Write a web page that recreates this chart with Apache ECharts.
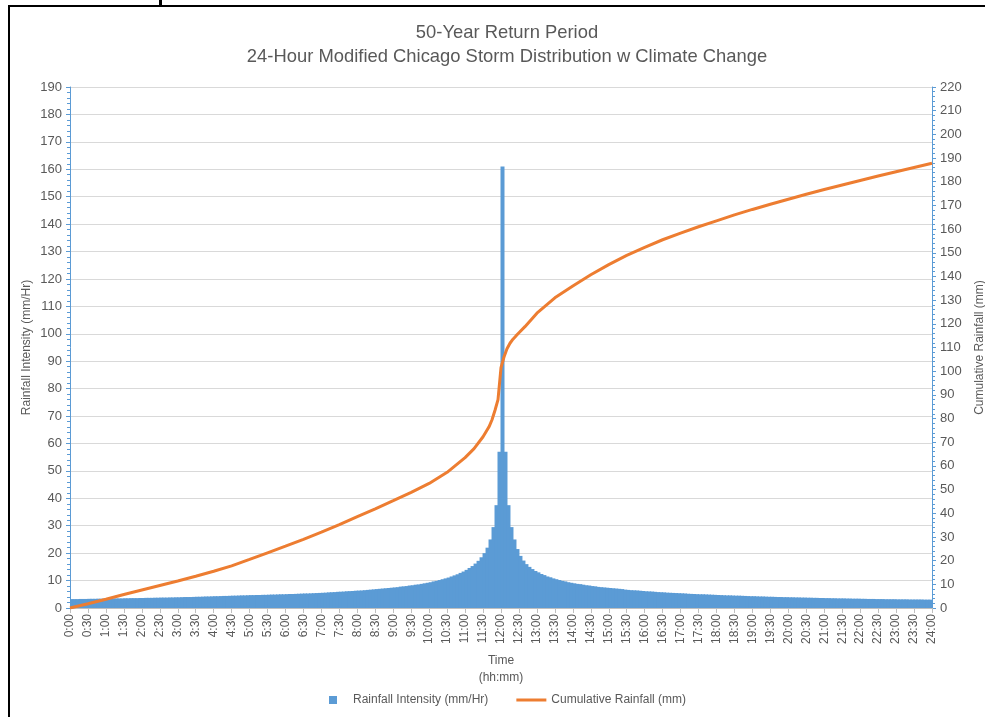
<!DOCTYPE html>
<html>
<head>
<meta charset="utf-8">
<script src="https://cdn.jsdelivr.net/npm/echarts@6/dist/echarts.min.js"></script>
<style>
  html, body { margin: 0; padding: 0; background: #fff; }
  #chart { width: 985px; height: 717px; }
</style>
</head>
<body>
<div id="chart"></div>
<script>
  // 5-minute rainfall intensity (mm/Hr), 0:00 -> 24:00, 288 blocks
  var intensity = [
    3.25, 3.25, 3.25, 3.3, 3.3, 3.3, 3.35, 3.35, 3.35, 3.4, 3.4, 3.4,
    3.45, 3.45, 3.45, 3.5, 3.5, 3.5, 3.55, 3.55, 3.6, 3.6, 3.6, 3.65,
    3.65, 3.7, 3.7, 3.7, 3.75, 3.75, 3.8, 3.8, 3.8, 3.85, 3.85, 3.9,
    3.9, 3.95, 4.0, 4.0, 4.0, 4.05, 4.1, 4.1, 4.15, 4.2, 4.2, 4.25,
    4.3, 4.3, 4.35, 4.4, 4.4, 4.45, 4.5, 4.5, 4.55, 4.6, 4.6, 4.65,
    4.7, 4.7, 4.75, 4.75, 4.8, 4.8, 4.85, 4.9, 4.9, 4.95, 5.0, 5.0,
    5.05, 5.1, 5.1, 5.15, 5.2, 5.25, 5.3, 5.3, 5.35, 5.4, 5.45, 5.5,
    5.55, 5.6, 5.7, 5.75, 5.8, 5.9, 5.95, 6.0, 6.1, 6.15,
    6.2, 6.3, 6.35, 6.4, 6.5, 6.6, 6.7, 6.8, 6.9, 7.0,
    7.1, 7.2, 7.3, 7.4, 7.5, 7.6, 7.8, 7.9, 8.0, 8.2,
    8.3, 8.5, 8.6, 8.8, 9.0, 9.2, 9.4, 9.7, 9.9, 10.2,
    10.5, 10.8, 11.1, 11.5, 11.9, 12.3, 12.8, 13.3, 13.9, 14.6,
    15.3, 16.2, 17.2, 18.5, 20, 22, 25, 29.5, 37.5, 57,
    161,
    57, 37.5, 29.5, 25, 21.5, 19, 17.3, 16, 15, 14.2,
    13.5, 13, 12.4, 12, 11.5, 11.2, 10.8, 10.5, 10.2, 9.9,
    9.7, 9.4, 9.2, 9.0, 8.8, 8.7, 8.5, 8.3, 8.2, 8.0,
    7.9, 7.7, 7.6, 7.5, 7.4, 7.3, 7.2, 7.1, 7.0, 6.9,
    6.7, 6.6, 6.5, 6.45, 6.4, 6.3, 6.2, 6.1, 6.05, 6.0,
    5.9, 5.8, 5.75, 5.7, 5.6, 5.55, 5.5, 5.45, 5.4, 5.35,
    5.3, 5.2, 5.15, 5.1, 5.05, 5.0, 5.0, 4.95, 4.9, 4.85,
    4.8, 4.75, 4.7, 4.65, 4.6, 4.6, 4.55, 4.5, 4.5, 4.45,
    4.4, 4.35, 4.3, 4.3, 4.25, 4.2, 4.2, 4.15, 4.1, 4.1,
    4.05, 4.0, 4.0, 3.95, 3.95, 3.9, 3.9, 3.85, 3.85, 3.8,
    3.8, 3.75, 3.75, 3.7, 3.7, 3.65, 3.65, 3.6, 3.6, 3.55,
    3.55, 3.5, 3.5, 3.5, 3.45, 3.45, 3.4, 3.4, 3.4, 3.35,
    3.35, 3.3, 3.3, 3.3, 3.25, 3.25, 3.25, 3.2, 3.2, 3.2,
    3.2, 3.15, 3.15, 3.15, 3.15, 3.1, 3.1, 3.1, 3.1, 3.1,
    3.05, 3.05, 3.05
  ]

  // cumulative rainfall (mm)
  var cumTimes = [
    '0:00', '0:30', '1:00', '1:30', '2:00', '2:30', '3:00', '3:30', '4:00', '4:30',
    '5:00', '5:30', '6:00', '6:30', '7:00', '7:30', '8:00', '8:30', '9:00', '9:30',
    '10:00', '10:30', '11:00', '11:15', '11:30', '11:40', '11:45', '11:50', '11:55', '12:00',
    '12:05', '12:10', '12:15', '12:20', '12:25', '12:30', '12:40', '13:00', '13:30', '14:00',
    '14:30', '15:00', '15:30', '16:00', '16:30', '17:00', '17:30', '18:00', '18:30', '19:00',
    '19:30', '20:00', '20:30', '21:00', '21:30', '22:00', '22:30', '23:00', '23:30', '24:00'
  ]
  var cumValues = [
    0, 1.8, 3.7, 5.7, 7.6, 9.5, 11.4, 13.4, 15.5, 17.8,
    20.5, 23.3, 26.1, 29, 32, 35.2, 38.6, 41.9, 45.3, 48.8,
    52.6, 57.3, 63.5, 67.3, 72.3, 76.5, 79.5, 83.5, 88, 101.5,
    106, 109.5, 111.8, 113.5, 114.9, 116.2, 118.8, 124.5, 131, 136,
    140.7, 145, 148.9, 152.3, 155.5, 158.3, 161, 163.5, 166, 168.3,
    170.5, 172.6, 174.7, 176.7, 178.6, 180.5, 182.4, 184.2, 186, 187.8
  ]

  var leftMax = 190
  var rightMax = 220

  var blue = '#5B9BD5'
  var orange = '#ED7D31'
  var txt = '#595959'
  var font = 'Liberation Sans'

  function toMin(s) {
    var p = s.split(':')
    return (+p[0]) * 60 + (+p[1])
  }
  function fmtMin(v) {
    var h = Math.floor(v / 60)
    var m = v % 60
    return h + ':' + (m < 10 ? '0' + m : m)
  }

  var barCats = intensity.map(function (v, i) { return fmtMin(i * 5) })
  var cumData = cumTimes.map(function (t, i) { return [toMin(t), cumValues[i]] })

  var myChart = echarts.init(document.getElementById('chart'))
  myChart.setOption({
    animation: false,
    backgroundColor: '#fff',
    title: {
      text: '50-Year Return Period\n24-Hour Modified Chicago Storm Distribution w Climate Change',
      left: 502,
      top: 16,
      textAlign: 'center',
      textStyle: { fontFamily: font, fontSize: 18.4, fontWeight: 'normal', color: txt, lineHeight: 24 }
    },
    legend: {
      bottom: 6,
      left: 324,
      itemGap: 28,
      itemWidth: 30,
      itemHeight: 8,
      textStyle: { fontFamily: font, fontSize: 12, color: txt },
      data: [
        { name: 'Rainfall Intensity (mm/Hr)', icon: 'path://M0,0h10v10h-10z' },
        { name: 'Cumulative Rainfall (mm)', icon: 'path://M0,0h100v10h-100z' }
      ]
    },
    grid: { left: 70, right: 53, top: 87, bottom: 109, outerBoundsMode: 'none' },
    xAxis: [
      {
        type: 'value',
        min: 0,
        max: 1440,
        interval: 30,
        name: 'Time\n(hh:mm)',
        nameLocation: 'middle',
        nameGap: 43,
        nameTextStyle: { fontFamily: font, fontSize: 12, color: txt, lineHeight: 17 },
        axisLine: { lineStyle: { color: '#bfbfbf' } },
        axisTick: { length: 5, lineStyle: { color: '#bfbfbf' } },
        axisLabel: {
          rotate: 90,
          margin: 6,
          fontFamily: font,
          fontSize: 12,
          color: txt,
          formatter: function (v) { return fmtMin(v) }
        },
        splitLine: { show: false }
      },
      {
        type: 'category',
        data: barCats,
        show: false
      }
    ],
    yAxis: [
      {
        type: 'value',
        min: 0,
        max: leftMax,
        interval: 10,
        name: 'Rainfall Intensity (mm/Hr)',
        nameLocation: 'middle',
        nameGap: 37,
        nameMoveOverlap: false,
        nameTextStyle: { fontFamily: font, fontSize: 12, color: txt },
        axisLine: { show: true, lineStyle: { color: blue } },
        axisTick: { show: true, length: 4, lineStyle: { color: blue } },
        minorTick: { show: true, splitNumber: 5, length: 3, lineStyle: { color: blue } },
        axisLabel: { fontFamily: font, fontSize: 13, color: txt, margin: 8 },
        splitLine: { lineStyle: { color: '#d9d9d9' } }
      },
      {
        type: 'value',
        min: 0,
        max: rightMax,
        interval: 10,
        name: 'Cumulative Rainfall (mm)',
        nameLocation: 'middle',
        nameGap: 42,
        nameMoveOverlap: false,
        nameTextStyle: { fontFamily: font, fontSize: 12, color: txt },
        axisLine: { show: true, lineStyle: { color: blue } },
        axisTick: { show: true, length: 4, lineStyle: { color: blue } },
        minorTick: { show: true, splitNumber: 5, length: 3, lineStyle: { color: blue } },
        axisLabel: { fontFamily: font, fontSize: 13, color: txt, margin: 8 },
        splitLine: { show: false }
      }
    ],
    series: [
      {
        name: 'Rainfall Intensity (mm/Hr)',
        type: 'bar',
        xAxisIndex: 1,
        yAxisIndex: 0,
        barWidth: 4,
        itemStyle: { color: blue },
        data: intensity
      },
      {
        name: 'Cumulative Rainfall (mm)',
        type: 'line',
        xAxisIndex: 0,
        yAxisIndex: 1,
        showSymbol: false,
        symbol: 'none',
        lineStyle: { color: orange, width: 3 },
        itemStyle: { color: orange },
        data: cumData
      }
    ],
    graphic: [
      { type: 'rect', shape: { x: 8, y: 5, width: 2, height: 712 }, style: { fill: '#000' } },
      { type: 'rect', shape: { x: 8, y: 5, width: 977, height: 2 }, style: { fill: '#000' } },
      { type: 'rect', shape: { x: 159, y: 0, width: 3, height: 6 }, style: { fill: '#000' } }
    ]
  })
</script>
</body>
</html>
